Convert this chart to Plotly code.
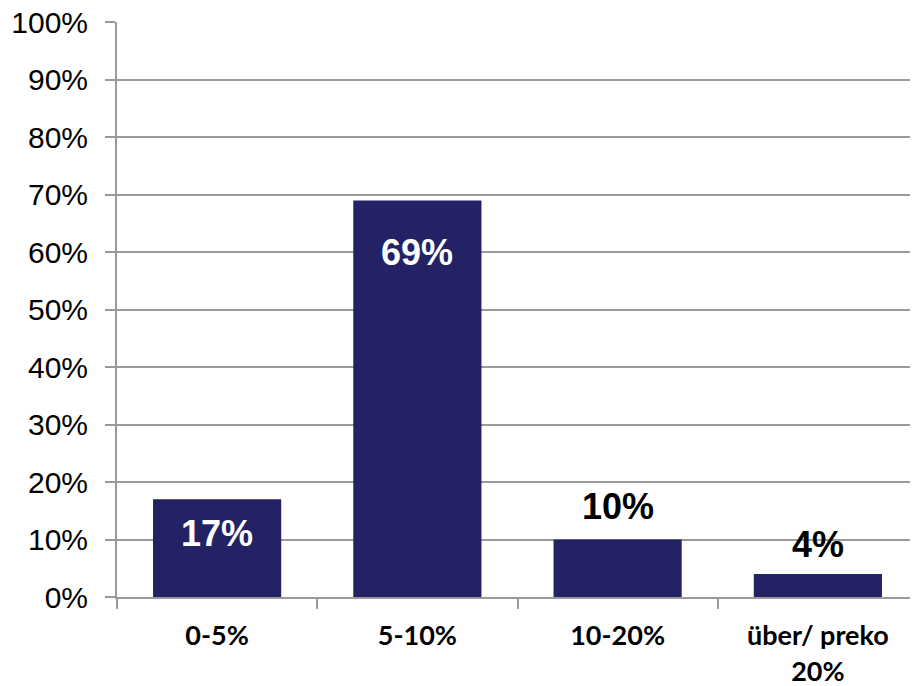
import plotly.graph_objects as go

categories = ["0-5%", "5-10%", "10-20%", "über/ preko<br>20%"]
values = [17, 69, 10, 4]
y_ticks = list(range(0, 101, 10))
y_tick_labels = [f"{t}%" for t in y_ticks]

# label styling (not data)
label_inside = [True, True, False, False]
label_shift = [-34, -52, 33, 30]

BAR = "#222265"
GRID = "#9a9a9a"

fig = go.Figure()
fig.add_trace(go.Bar(
    x=categories, y=values, marker=dict(color=BAR, line=dict(width=0)),
    hoverinfo="skip",
))

for c, v, ins, sh in zip(categories, values, label_inside, label_shift):
    fig.add_annotation(
        x=c, y=v, xref="x", yref="y", text=f"{v}%", showarrow=False,
        yshift=sh, yanchor="middle",
        font=dict(family="Liberation Sans, Arial", size=36,
                  color="white" if ins else "black", weight="bold"),
    )

# page body has an 8px margin, so the figure is sized to fit the window
fig.update_layout(
    width=910, height=678,
    margin=dict(l=109, r=0, t=14, b=89),
    paper_bgcolor="white", plot_bgcolor="white",
    bargap=0.36, showlegend=False,
)
fig.update_xaxes(
    showline=True, linecolor=GRID, linewidth=2,
    ticks="outside", ticklen=10, tickcolor=GRID, tickwidth=2,
    tickson="boundaries", showgrid=False, automargin=False,
    tickfont=dict(family="Lato, Carlito, Calibri", size=27, color="black", weight="bold"),
    ticklabelstandoff=14,
)
fig.update_yaxes(
    range=[0, 100.05], tickvals=y_ticks, ticktext=y_tick_labels,
    showline=True, linecolor=GRID, linewidth=2,
    ticks="outside", ticklen=10, tickcolor=GRID, tickwidth=2,
    showgrid=True, gridcolor=GRID, gridwidth=2, zeroline=False,
    automargin=False,
    tickfont=dict(family="Liberation Sans, Arial", size=30, color="black"),
    ticklabelstandoff=11, ticklabeloverflow="allow",
)

fig.write_html("out.html")
